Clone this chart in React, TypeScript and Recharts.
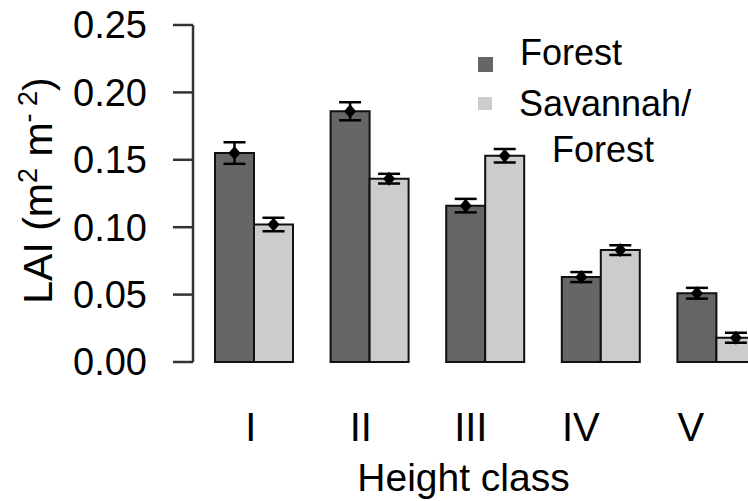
import React from 'react'
import { BarChart, Bar, XAxis, YAxis, ErrorBar, LabelList } from 'recharts'

const classes = ['I', 'II', 'III', 'IV', 'V']
const forest = [0.155, 0.186, 0.116, 0.063, 0.051]
const forestSe = [0.008, 0.0067, 0.005, 0.0037, 0.004]
const savannah = [0.102, 0.136, 0.153, 0.083, 0.018]
const savannahSe = [0.005, 0.0036, 0.005, 0.0036, 0.0037]
const yTicks = [0, 0.05, 0.1, 0.15, 0.2, 0.25]

const FONT = '"Liberation Sans", Arial, sans-serif'
const FOREST_FILL = '#666666'
const SAV_FILL = '#cccccc'

const data = classes.map((c, i) => ({
  cls: c,
  forest: forest[i],
  forestSe: forestSe[i],
  savannah: savannah[i],
  savannahSe: savannahSe[i],
}))

// black diamond sitting on the mean (top of each bar)
const Diamond = (p: any) => {
  const cx = Number(p.x) + Number(p.width) / 2
  const cy = Number(p.y)
  return <polygon points={`${cx},${cy - 7} ${cx + 6},${cy} ${cx},${cy + 7} ${cx - 6},${cy}`} fill="#000" />
}

// R placed the numerals slightly left of the group centres
const XTick = (p: any) => (
  <text x={p.x - 3 - p.index * 5.6} y={p.y + 79} textAnchor="middle" fontSize={40} fontFamily={FONT} fill="#000">
    {p.payload.value}
  </text>
)

const XLabel = (p: any) => {
  const vb = p.viewBox
  return (
    <text x={vb.x + vb.width / 2 - 20} y={vb.y + vb.height - 10} textAnchor="middle" fontSize={39} fontFamily={FONT} fill="#000">
      Height class
    </text>
  )
}

const YLabel = (p: any) => {
  const vb = p.viewBox
  const x = 52
  const y = vb.y + vb.height / 2 - 3
  return (
    <text transform={`rotate(-90, ${x}, ${y})`} x={x} y={y} textAnchor="middle" fontSize={41} fontFamily={FONT} fill="#000">
      {'LAI (m'}
      <tspan dy={-15} fontSize={27}>2</tspan>
      <tspan dy={15}>{' m'}</tspan>
      <tspan dy={-15} fontSize={27}>{'- 2'}</tspan>
      <tspan dy={15}>)</tspan>
    </text>
  )
}

function LegendOverlay() {
  return (
    <svg width={748} height={501} style={{ position: 'absolute', left: 0, top: 0, pointerEvents: 'none' }}>
      <g fontFamily={FONT} fontSize={36} fill="#000">
        <rect x={478} y={57} width={15} height={15} fill={FOREST_FILL} />
        <text x={520} y={65}>Forest</text>
        <rect x={478} y={97} width={14} height={13} fill={SAV_FILL} />
        <text x={519} y={116}>Savannah/</text>
        <text x={552} y={162}>Forest</text>
      </g>
    </svg>
  )
}

export default function App() {
  return (
    <div style={{ position: 'fixed', left: 0, top: 0, width: 748, height: 501, overflow: 'hidden', background: '#fff' }}>
      <BarChart
        width={774}
        height={501}
        data={data}
        margin={{ top: 25, right: 0, left: 0, bottom: 0 }}
        barCategoryGap={19}
        barGap={0}
      >
        <XAxis
          dataKey="cls"
          axisLine={false}
          tickLine={false}
          tickSize={0}
          tickMargin={0}
          height={139}
          interval={0}
          padding={{ left: 3, right: 0 }}
          tick={<XTick />}
          label={XLabel}
        />
        <YAxis
          width={193}
          domain={[0, 0.25]}
          ticks={yTicks}
          tickFormatter={(v: number) => v.toFixed(2)}
          tickSize={20}
          tickMargin={26}
          axisLine={{ stroke: '#333', strokeWidth: 2.5 }}
          tickLine={{ stroke: '#333', strokeWidth: 2.5 }}
          tick={{ fill: '#000', fontSize: 38, fontFamily: FONT }}
          label={YLabel}
        />
        <Bar dataKey="forest" fill={FOREST_FILL} stroke="#111" strokeWidth={2} isAnimationActive={false}>
          <ErrorBar dataKey="forestSe" width={11} stroke="#000" strokeWidth={2.5} direction="y" />
          <LabelList dataKey="forest" content={<Diamond />} />
        </Bar>
        <Bar dataKey="savannah" fill={SAV_FILL} stroke="#111" strokeWidth={2} isAnimationActive={false}>
          <ErrorBar dataKey="savannahSe" width={11} stroke="#000" strokeWidth={2.5} direction="y" />
          <LabelList dataKey="savannah" content={<Diamond />} />
        </Bar>
      </BarChart>
      <LegendOverlay />
    </div>
  )
}
